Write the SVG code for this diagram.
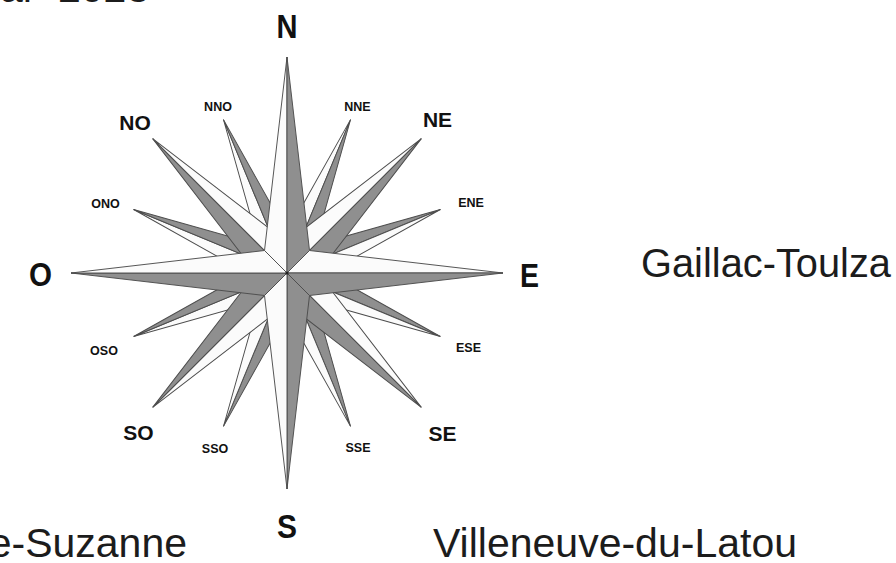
<svg xmlns="http://www.w3.org/2000/svg" xmlns:xlink="http://www.w3.org/1999/xlink" width="896" height="563" viewBox="0 0 896 563">
  <style>
    .g { fill: #8f8f8f; stroke: #4d4d4d; stroke-width: 0.95; }
    .w { fill: #fbfbfb; stroke: #4d4d4d; stroke-width: 0.95; }
    .big { font-family: "Liberation Sans", Arial, sans-serif; font-weight: bold; font-size: 33px; fill: #111; text-anchor: middle; }
    .mid { font-family: "Liberation Sans", Arial, sans-serif; font-weight: bold; font-size: 21px; fill: #111; text-anchor: middle; }
    .sm { font-family: "Liberation Sans", Arial, sans-serif; font-weight: bold; font-size: 12.5px; fill: #111; text-anchor: middle; }
    .town { font-family: "Liberation Sans", Arial, sans-serif; font-size: 41px; fill: #1c1c1c; }
  </style>
  <defs>
    <!-- half-kites pointing up from the rose centre; one set per ring -->
    <polygon id="cl" points="0,-216 0,0 -22.5,-22.5"/>
    <polygon id="cr" points="0,-216 0,0 22.5,-22.5"/>
    <polygon id="il" points="0,-190 0,0 -21.9,-21.9"/>
    <polygon id="ir" points="0,-190 0,0 21.9,-21.9"/>
    <polygon id="tl" points="0,-166 0,0 -15.3,-37"/>
    <polygon id="tr" points="0,-166 0,0 15.3,-37"/>
  </defs>

  <rect width="896" height="563" fill="#ffffff"/>

  <!-- date line, mostly above the top edge -->
  <text class="town" font-size="34" y="2"><tspan x="0">ar</tspan><tspan x="58">2023</tspan></text>

  <g id="rose">
    <!-- third ring: 16 points -->
    <g id="pt-NNE" transform="translate(287 273) rotate(22.5)"><use href="#tl" class="w"/><use href="#tr" class="g"/></g>
    <g id="pt-ENE" transform="translate(287 273) rotate(67.5)"><use href="#tl" class="g"/><use href="#tr" class="w"/></g>
    <g id="pt-ESE" transform="translate(287 273) rotate(112.5)"><use href="#tl" class="g"/><use href="#tr" class="w"/></g>
    <g id="pt-SSE" transform="translate(287 273) rotate(157.5)"><use href="#tl" class="g"/><use href="#tr" class="w"/></g>
    <g id="pt-SSO" transform="translate(287 273) rotate(202.5)"><use href="#tl" class="g"/><use href="#tr" class="w"/></g>
    <g id="pt-OSO" transform="translate(287 273) rotate(247.5)"><use href="#tl" class="w"/><use href="#tr" class="g"/></g>
    <g id="pt-ONO" transform="translate(287 273) rotate(292.5)"><use href="#tl" class="w"/><use href="#tr" class="g"/></g>
    <g id="pt-NNO" transform="translate(287 273) rotate(337.5)"><use href="#tl" class="w"/><use href="#tr" class="g"/></g>

    <!-- second ring: intercardinal points -->
    <g id="pt-NE" transform="translate(287 273) rotate(45)"><use href="#il" class="w"/><use href="#ir" class="g"/></g>
    <g id="pt-SE" transform="translate(287 273) rotate(135)"><use href="#il" class="w"/><use href="#ir" class="g"/></g>
    <g id="pt-SO" transform="translate(287 273) rotate(225)"><use href="#il" class="w"/><use href="#ir" class="g"/></g>
    <g id="pt-NO" transform="translate(287 273) rotate(315)"><use href="#il" class="g"/><use href="#ir" class="w"/></g>

    <!-- top ring: cardinal points -->
    <g id="pt-N" transform="translate(287 273) rotate(0)"><use href="#cl" class="w"/><use href="#cr" class="g"/></g>
    <g id="pt-E" transform="translate(287 273) rotate(90)"><use href="#cl" class="w"/><use href="#cr" class="g"/></g>
    <g id="pt-S" transform="translate(287 273) rotate(180)"><use href="#cl" class="g"/><use href="#cr" class="w"/></g>
    <g id="pt-O" transform="translate(287 273) rotate(270)"><use href="#cl" class="g"/><use href="#cr" class="w"/></g>

    <circle cx="287" cy="273" r="1.6" fill="#222"/>
  </g>

  <g id="labels">
    <text class="big" x="287" y="38" textLength="21" lengthAdjust="spacingAndGlyphs">N</text>
    <text class="big" x="287" y="538" textLength="20" lengthAdjust="spacingAndGlyphs">S</text>
    <text class="big" x="529.5" y="287" textLength="19" lengthAdjust="spacingAndGlyphs">E</text>
    <text class="big" x="40.5" y="286" textLength="23" lengthAdjust="spacingAndGlyphs">O</text>

    <text class="mid" x="135" y="130">NO</text>
    <text class="mid" x="437.5" y="127">NE</text>
    <text class="mid" x="442.5" y="441">SE</text>
    <text class="mid" x="138.5" y="440">SO</text>

    <text class="sm" x="218" y="111">NNO</text>
    <text class="sm" x="357.5" y="111">NNE</text>
    <text class="sm" x="471" y="207">ENE</text>
    <text class="sm" x="468.5" y="352">ESE</text>
    <text class="sm" x="358" y="452">SSE</text>
    <text class="sm" x="215" y="453">SSO</text>
    <text class="sm" x="104" y="355">OSO</text>
    <text class="sm" x="105.5" y="208">ONO</text>
  </g>

  <g id="towns">
    <text class="town" x="641" y="277" textLength="250" lengthAdjust="spacingAndGlyphs">Gaillac-Toulza</text>
    <text class="town" x="433" y="557" textLength="364" lengthAdjust="spacingAndGlyphs">Villeneuve-du-Latou</text>
    <text class="town" x="187" y="557" text-anchor="end">e-Suzanne</text>
  </g>
</svg>
